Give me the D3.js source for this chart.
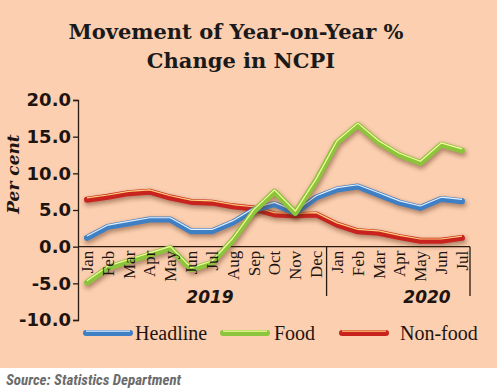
<!DOCTYPE html>
<html>
<head>
<meta charset="utf-8">
<script src="https://cdn.jsdelivr.net/npm/d3@7"></script>
<style>
  body { margin: 0; background: #fff; }
  svg { display: block; }
</style>
</head>
<body>
<div id="chart"></div>
<script>
// months Jan 2019 .. Jul 2020
let months = ["Jan", "Feb", "Mar", "Apr", "May", "Jun", "Jul", "Aug", "Sep", "Oct", "Nov", "Dec",
  "Jan", "Feb", "Mar", "Apr", "May", "Jun", "Jul"]
let years = ["2019", "2020"]
let headline = [1.2, 2.7, 3.2, 3.7, 3.7, 2.1, 2.1, 3.3, 5.0, 5.8, 4.6, 6.7, 7.8, 8.2, 7.1, 6.0, 5.3, 6.5, 6.2]
let food = [-4.9, -2.9, -2.0, -1.1, -0.2, -3.1, -2.2, 0.9, 4.8, 7.5, 4.6, 9.0, 14.2, 16.6, 14.2, 12.5, 11.4, 13.9, 13.1]
let nonFood = [6.4, 6.8, 7.3, 7.5, 6.7, 6.1, 6.0, 5.5, 5.2, 4.4, 4.3, 4.4, 3.0, 2.1, 1.9, 1.3, 0.8, 0.8, 1.2]
let yTicks = [-10, -5, 0, 5, 10, 15, 20]

let series = [
  { name: "Non-food", values: nonFood, color: "#c8231f", hi: "#ffd27a" },
  { name: "Headline", values: headline, color: "#3f7fc4", hi: "#e3f1ff" },
  { name: "Food", values: food, color: "#8cc43c", hi: "#f4ff9e" }
]
let legendOrder = ["Headline", "Food", "Non-food"]

let width = 500, height = 392
let svg = d3.select("#chart").append("svg")
  .attr("width", width)
  .attr("height", height)

let defs = svg.append("defs")
defs.append("filter").attr("id", "shadow")
  .attr("x", "-10%").attr("y", "-20%").attr("width", "120%").attr("height", "140%")
  .append("feGaussianBlur").attr("stdDeviation", 2.2)

// peach panel
svg.append("rect").attr("x", 0).attr("y", 0).attr("width", 497).attr("height", 368)
  .attr("fill", "#fbcfb0")

// title
svg.append("text")
  .attr("x", 236).attr("y", 39)
  .attr("text-anchor", "middle")
  .style("font-family", "DejaVu Serif")
  .style("font-weight", "bold")
  .style("font-size", "21px")
  .attr("fill", "#1a1a1a")
  .text("Movement of Year-on-Year %")
svg.append("text")
  .attr("x", 241).attr("y", 68)
  .attr("text-anchor", "middle")
  .style("font-family", "DejaVu Serif")
  .style("font-weight", "bold")
  .style("font-size", "21px")
  .attr("fill", "#1a1a1a")
  .text("Change in NCPI")

let xScale = d3.scalePoint().domain(d3.range(months.length)).range([87, 462])
let yScale = d3.scaleLinear().domain([-10, 20]).range([320, 100])

// y axis
let yAxis = d3.axisLeft(yScale)
  .tickValues(yTicks)
  .tickFormat(d => d3.format(".1f")(d).replace("\u2212", "-"))
  .tickSize(5)
  .tickPadding(2)
let ya = svg.append("g")
  .attr("transform", "translate(78,0)")
  .call(yAxis)
ya.selectAll("path, line").attr("stroke", "#2a1a10").attr("stroke-width", 1.3)
ya.selectAll("text")
  .style("font-family", "DejaVu Sans")
  .style("font-weight", "bold")
  .style("font-size", "18px")
  .attr("fill", "#1e1410")

// y label
svg.append("text")
  .attr("transform", "translate(19,174) rotate(-90)")
  .attr("text-anchor", "middle")
  .style("font-family", "DejaVu Serif")
  .style("font-weight", "bold")
  .style("font-style", "italic")
  .style("font-size", "17px")
  .attr("fill", "#1e1410")
  .text("Per cent")

// zero line + year separators
let y0 = yScale(0)
let sepX = (xScale(11) + xScale(12)) / 2
svg.append("line").attr("x1", 78).attr("x2", 470).attr("y1", y0).attr("y2", y0)
  .attr("stroke", "#2a1a10").attr("stroke-width", 1.3)
svg.append("line").attr("x1", sepX).attr("x2", sepX).attr("y1", y0).attr("y2", 296)
  .attr("stroke", "#2a1a10").attr("stroke-width", 1.3)
svg.append("line").attr("x1", 470).attr("x2", 470).attr("y1", y0).attr("y2", 296)
  .attr("stroke", "#2a1a10").attr("stroke-width", 1.3)

// lines
let line = d3.line()
  .x((d, i) => xScale(i))
  .y(d => yScale(d))

function drawStroke(g, pathD, s) {
  g.append("path").attr("d", pathD)
    .attr("fill", "none").attr("stroke", "#5a2a10").attr("stroke-opacity", 0.45)
    .attr("stroke-width", 7).attr("stroke-linejoin", "round").attr("stroke-linecap", "round")
    .attr("transform", "translate(1,2.5)")
    .attr("filter", "url(#shadow)")
  g.append("path").attr("d", pathD)
    .attr("fill", "none").attr("stroke", s.color)
    .attr("stroke-width", 6).attr("stroke-linejoin", "round").attr("stroke-linecap", "round")
  g.append("path").attr("d", pathD)
    .attr("fill", "none").attr("stroke", s.hi)
    .attr("stroke-width", 1.2).attr("stroke-linejoin", "round")
    .attr("transform", "translate(0,-1.8)")
}

series.forEach(s => {
  drawStroke(svg.append("g"), line(s.values), s)
})

// month labels (on top of the lines)
svg.append("g").selectAll("text")
  .data(months)
  .enter()
  .append("text")
    .attr("transform", (d, i) => "translate(" + xScale(i) + "," + (y0 + 4) + ") rotate(-90)")
    .attr("dy", "0.35em")
    .attr("text-anchor", "end")
    .style("font-family", "Liberation Serif")
    .style("font-size", "17px")
    .attr("fill", "#1e1410")
    .text(d => d)

// year labels
let yearX = [210, 427]
svg.append("g").selectAll("text")
  .data(years)
  .enter()
  .append("text")
    .attr("x", (d, i) => yearX[i])
    .attr("y", 303)
    .attr("text-anchor", "middle")
    .style("font-family", "DejaVu Sans")
    .style("font-weight", "bold")
    .style("font-style", "italic")
    .style("font-size", "17px")
    .attr("fill", "#1e1410")
    .text(d => d)

// legend
let legendX = [{ sx: 86, tx: 135 }, { sx: 223, tx: 274 }, { sx: 342, tx: 400 }]
legendOrder.forEach((name, i) => {
  let s = series.find(d => d.name === name)
  let g = svg.append("g")
  let p = legendX[i]
  drawStroke(g, "M" + p.sx + ",333H" + (p.sx + 44), s)
  g.append("text")
    .attr("x", p.tx).attr("y", 340)
    .style("font-family", "Liberation Serif")
    .style("font-size", "20px")
    .attr("fill", "#1e1410")
    .text(name)
})

// source
svg.append("text")
  .attr("x", 6).attr("y", 385)
  .style("font-family", "Liberation Sans Narrow, Roboto Condensed, sans-serif")
  .style("font-weight", "bold")
  .style("font-style", "italic")
  .style("font-size", "15px")
  .attr("fill", "#6b6b6b")
  .text("Source: Statistics Department")
</script>
</body>
</html>
